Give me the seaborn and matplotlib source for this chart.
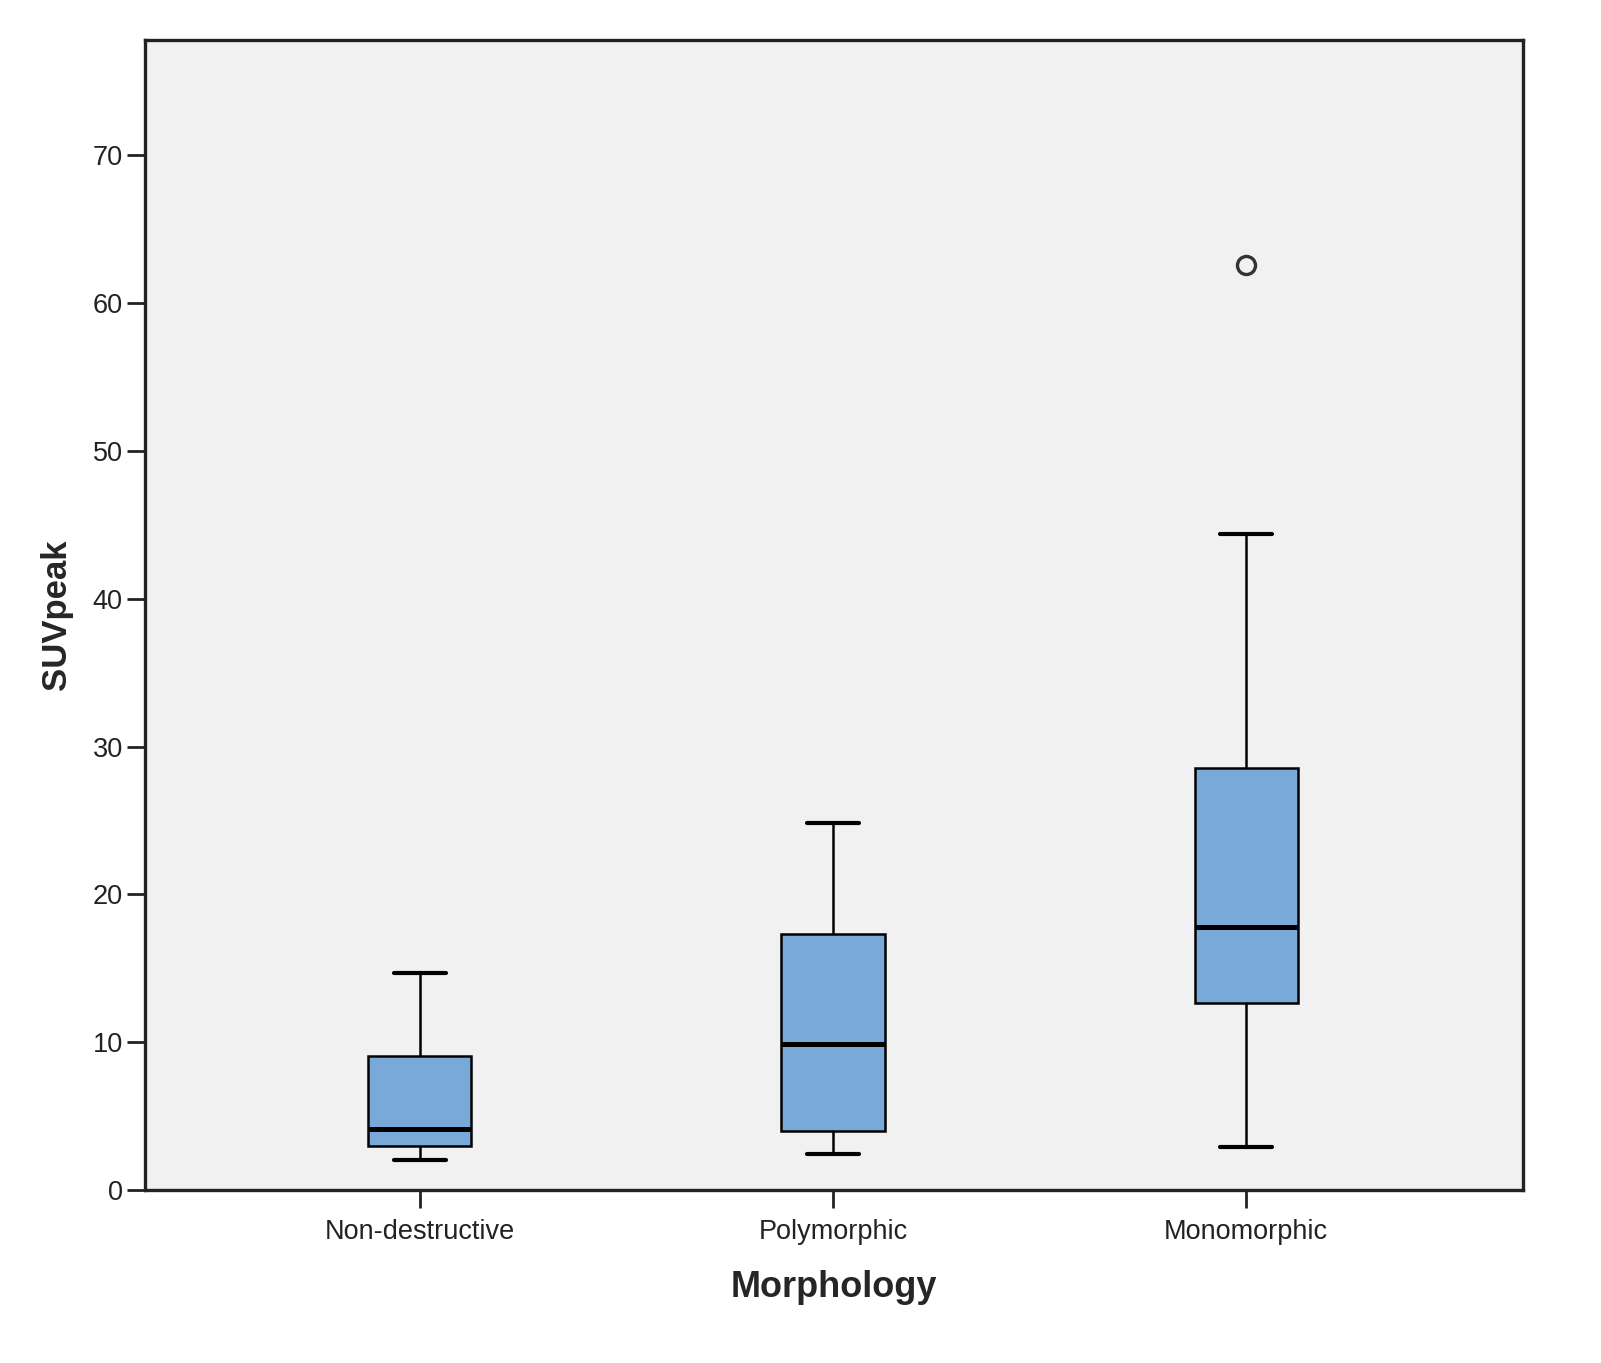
import matplotlib
matplotlib.use("Agg")
import matplotlib.pyplot as plt
import seaborn as sns
import pandas as pd

categories = ["Non-destructive", "Polymorphic", "Monomorphic"]
# values chosen so that min / quartiles / max reproduce the boxes
nondestructive = [2.0, 3.0, 4.1, 9.05, 14.7]
polymorphic = [2.45, 4.0, 9.85, 17.35, 24.8]
monomorphic = [2.9, 8.0, 12.65, 15.0, 17.8, 22.0, 28.55, 44.35, 62.6]
yticks = [0, 10, 20, 30, 40, 50, 60, 70]

df = pd.DataFrame({
    "Morphology": [categories[0]] * len(nondestructive)
    + [categories[1]] * len(polymorphic)
    + [categories[2]] * len(monomorphic),
    "SUVpeak": nondestructive + polymorphic + monomorphic,
})

sns.set_style("ticks")
plt.rcParams["font.family"] = ["Liberation Sans", "DejaVu Sans"]

fig = plt.figure(figsize=(16.01, 13.63), dpi=100)
ax = fig.add_axes([0.0906, 0.1269, 0.8607, 0.8438])
ax.set_facecolor("#F1F1F1")

sns.boxplot(
    data=df, x="Morphology", y="SUVpeak", order=categories, ax=ax,
    color="#79A9D8", width=0.25, whis=1.5, linecolor="black", linewidth=1.8,
    boxprops=dict(facecolor="#79A9D8", edgecolor="black", linewidth=1.8),
    medianprops=dict(color="black", linewidth=3.6),
    whiskerprops=dict(color="black", linewidth=1.8),
    capprops=dict(color="black", linewidth=3.0),
    flierprops=dict(marker="o", markersize=13, markerfacecolor="none",
                    markeredgecolor="#333333", markeredgewidth=2.4),
)

ax.set_ylim(0, 77.8)
ax.set_xlim(-0.665, 2.67)
ax.set_yticks(yticks)
ax.set_yticklabels([str(v) for v in yticks])
ax.tick_params(axis="both", direction="out", length=13, width=2.0, color="#222222",
               labelsize=19.5, labelcolor="#222222", pad=3)
ax.tick_params(axis="x", pad=8)
for s in ax.spines.values():
    s.set_visible(True)
    s.set_linewidth(2.4)
    s.set_color("#222222")

ax.set_xlabel("Morphology", fontsize=26, fontweight="bold", labelpad=18)
ax.set_ylabel("SUVpeak", fontsize=25, fontweight="bold", labelpad=14)

fig.savefig("out.png", dpi=100, facecolor="white")
